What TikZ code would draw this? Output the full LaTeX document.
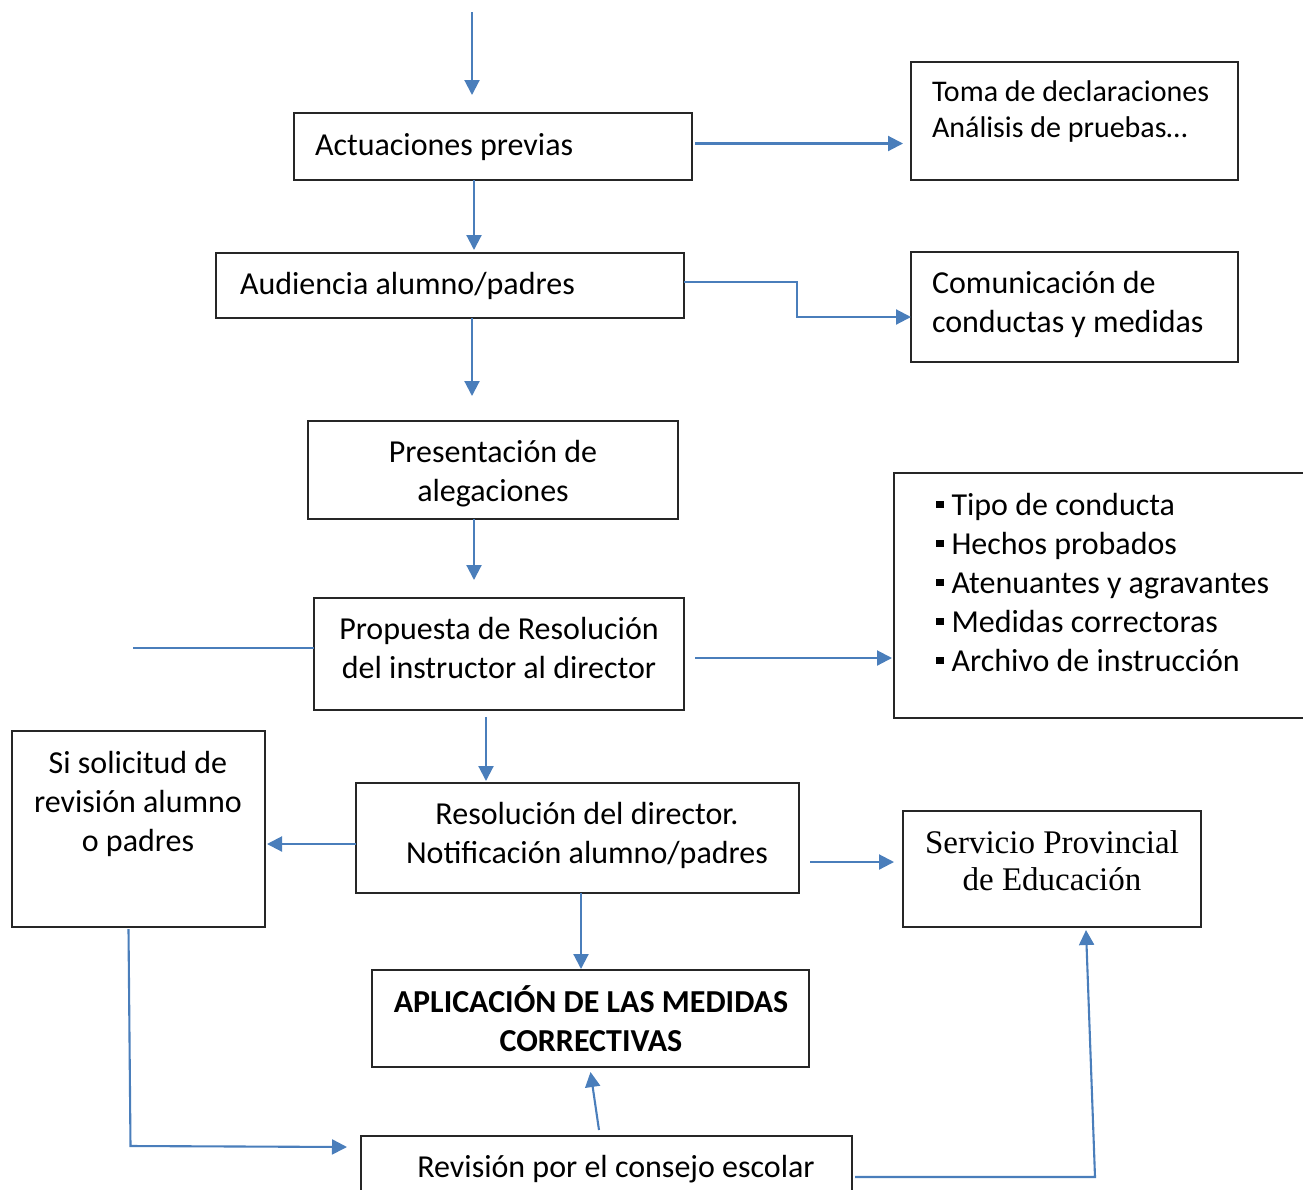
\documentclass[tikz,border=0pt]{standalone}
\usepackage{fontspec}
\setmainfont{Carlito}
\newfontfamily\serifcam{Liberation Serif}
\usetikzlibrary{arrows.meta}
\definecolor{arrblue}{HTML}{4A7EBB}
\newcommand\lstr{\rule{0pt}{28pt}}
\newcommand\sqb{\raisebox{7pt}{\rule{7.5pt}{7.5pt}}\hspace{8pt}}
\begin{document}
\begin{tikzpicture}[x=1pt,y=-1pt,
  box/.style={draw=black!85,line width=1.4pt,inner sep=0pt,outer sep=0pt,anchor=north west},
  txt/.style={inner sep=0pt,outer sep=0pt,font=\fontsize{32}{39}\selectfont},
  arr/.style={draw=arrblue,line width=2.1pt,-{Triangle[length=15pt,width=15pt]}},
  ln/.style={draw=arrblue,line width=2.1pt}]
\useasboundingbox (0,0) rectangle (1303,1189);
% boxes
\node[box,minimum width=398pt,minimum height=67pt] (act) at (294,113) {};
\node[box,minimum width=327pt,minimum height=118pt] (toma) at (911,62) {};
\node[box,minimum width=468pt,minimum height=65pt] (aud) at (216,253) {};
\node[box,minimum width=327pt,minimum height=110pt] (com) at (911,252) {};
\node[box,minimum width=370pt,minimum height=98pt] (pres) at (308,421) {};
\node[box,minimum width=370pt,minimum height=112pt] (prop) at (314,598) {};
\node[box,minimum width=416pt,minimum height=245pt] (bul) at (894,473) {};
\node[box,minimum width=253pt,minimum height=196pt] (si) at (12,731) {};
\node[box,minimum width=443pt,minimum height=110pt] (res) at (356,783) {};
\node[box,minimum width=298pt,minimum height=116pt] (serv) at (903,811) {};
\node[box,minimum width=437pt,minimum height=97pt] (apl) at (372,970) {};
\node[box,minimum width=491pt,minimum height=94pt] (rev) at (361,1136) {};
% texts
\node[txt,anchor=north west] (actT) at (315,127) {\lstr Actuaciones previas};
\node[txt,anchor=north west,align=left,font=\fontsize{30}{36}\selectfont] (tomaT) at (932,73) {\lstr Toma de declaraciones\\Análisis de pruebas…};
\node[txt,anchor=north west] (audT) at (240,266) {\lstr Audiencia alumno/padres};
\node[txt,anchor=north west,align=left] (comT) at (932,265) {\lstr Comunicación de\\conductas y medidas};
\node[txt,anchor=north,align=center] (presT) at (493,434) {\lstr Presentación de\\alegaciones};
\node[txt,anchor=north,align=center] (propT) at (499,611) {\lstr Propuesta de Resolución\\del instructor al director};
\node[txt,anchor=north west,align=left] (bulT) at (936,487) {\lstr\sqb Tipo de conducta\\\sqb Hechos probados\\\sqb Atenuantes y agravantes\\\sqb Medidas correctoras\\\sqb Archivo de instrucción};
\node[txt,anchor=north,align=center] (siT) at (138,745) {\lstr Si solicitud de\\revisión alumno\\o padres};
\node[txt,anchor=north,align=center] (resT) at (587,796) {\lstr Resolución del director.\\Notificación alumno/padres};
\node[txt,anchor=north,align=center,font=\serifcam\fontsize{33}{37}\selectfont] (servT) at (1052,825) {\lstr Servicio Provincial\\de Educación};
\node[txt,anchor=north,align=center,font=\bfseries\fontsize{32}{39}\selectfont] (aplT) at (591,984) {\lstr APLICACIÓN DE LAS MEDIDAS\\CORRECTIVAS};
\node[txt,anchor=north] (revT) at (616,1149) {\lstr Revisión por el consejo escolar};
% connectors
\coordinate (start) at (472,12);
\draw[arr,shorten >=18pt] (start) -- (start |- act.north);
\draw[arr] ([xshift=3pt,yshift=3pt]act.east) -- ([xshift=-8pt,yshift=3pt]act.east -| toma.west);
\draw[arr,shorten >=3pt] ([xshift=-19pt]act.south) -- ([xshift=-19pt]act.south |- aud.north);
\draw[arr] ([yshift=3.5pt]aud.east) -- ++(113,0) |- ([yshift=-10pt]com.west);
\draw[arr,shorten >=25pt] ([xshift=22pt]aud.south) -- ([xshift=22pt]aud.south |- pres.north);
\draw[arr,shorten >=18pt] ([xshift=-19pt]pres.south) -- ([xshift=-19pt]pres.south |- prop.north);
\draw[ln] ([yshift=6pt]prop.west) -- ++(-181,0);
\draw[arr,shorten >=2pt] ([xshift=11pt,yshift=-4pt]prop.east) -- ([yshift=-4pt]prop.east -| bul.west);
\draw[arr,shorten >=2pt] ([xshift=-13pt,yshift=-7pt]prop.south) -- ([xshift=-13pt]prop.south |- res.north);
\draw[arr,shorten >=2pt] ([yshift=-6pt]res.west) -- ([yshift=-6pt]res.west -| si.east);
\draw[arr,shorten >=9pt] ([xshift=11pt,yshift=-24pt]res.east) -- ([yshift=-24pt]res.east -| serv.west);
\draw[arr,shorten >=1pt] ([xshift=3.5pt]res.south) -- ([xshift=3.5pt]res.south |- apl.north);
\draw[arr] ([xshift=-10pt,yshift=-2pt]si.south) -- ++(2,217) -- ([xshift=-14pt,yshift=-11pt]rev.north west);
\draw[arr] ([xshift=-7.5pt,yshift=6pt]rev.north) -- ([yshift=-5pt]apl.south);
\draw[arr] ([xshift=3pt,yshift=-41pt]rev.north east) -- ++(240,0) -- ([xshift=34pt,yshift=-3pt]serv.south);
\end{tikzpicture}
\end{document}
